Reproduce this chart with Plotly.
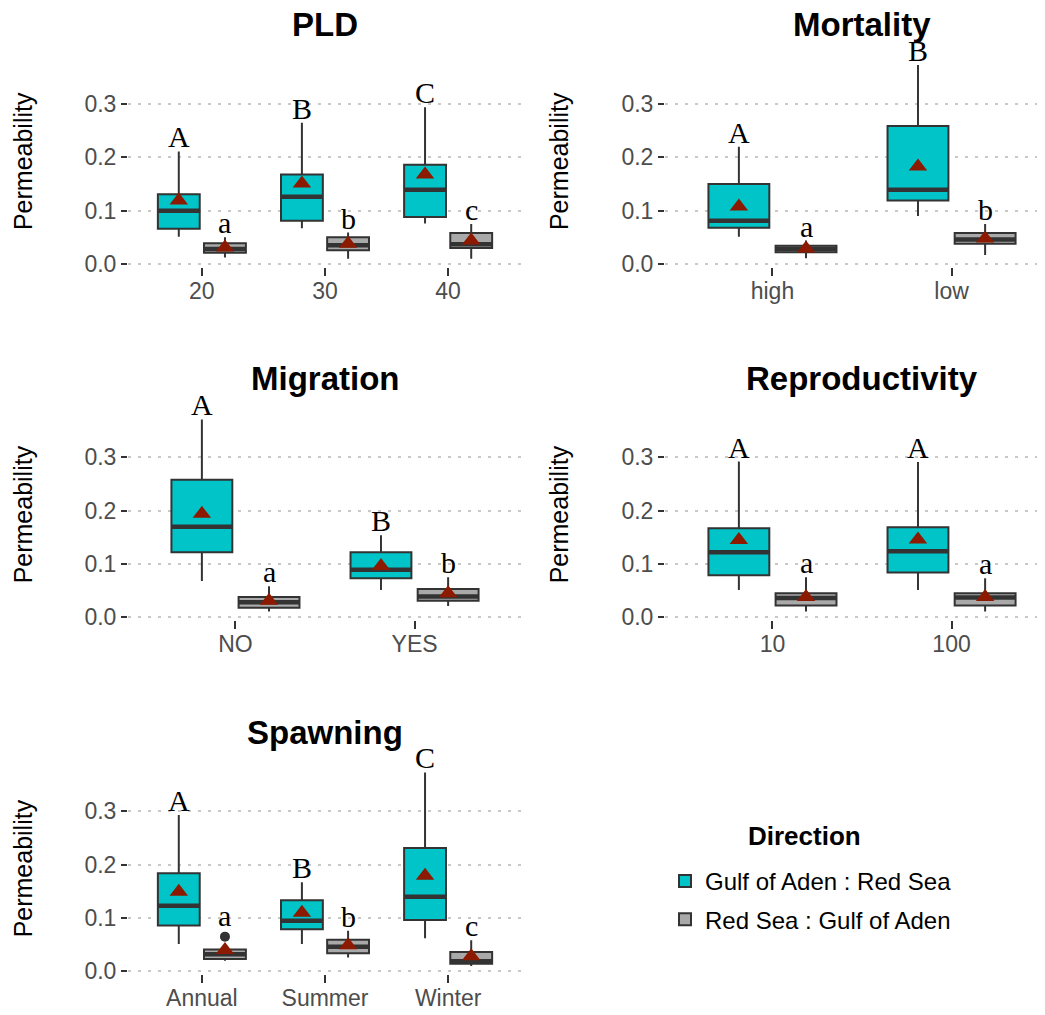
import plotly.graph_objects as go

# ---------------- data ----------------
directions = ["Gulf of Aden : Red Sea", "Red Sea : Gulf of Aden"]

pld_categories = ["20", "30", "40"]
pld_gulf = {"lower": [0.051, 0.067, 0.076], "q1": [0.066, 0.081, 0.088], "median": [0.100, 0.126, 0.139],
            "q3": [0.131, 0.168, 0.186], "upper": [0.211, 0.265, 0.294], "mean": [0.119, 0.151, 0.168]}
pld_red = {"lower": [0.012, 0.010, 0.010], "q1": [0.021, 0.026, 0.030], "median": [0.028, 0.035, 0.037],
           "q3": [0.039, 0.050, 0.058], "upper": [0.050, 0.059, 0.075], "mean": [0.031, 0.038, 0.044]}
pld_letters_gulf = ["A", "B", "C"]
pld_letters_red = ["a", "b", "c"]

mortality_categories = ["high", "low"]
mortality_gulf = {"lower": [0.051, 0.090], "q1": [0.068, 0.119], "median": [0.081, 0.139],
                  "q3": [0.150, 0.259], "upper": [0.220, 0.373], "mean": [0.108, 0.183]}
mortality_red = {"lower": [0.011, 0.017], "q1": [0.022, 0.038], "median": [0.028, 0.046],
                 "q3": [0.034, 0.058], "upper": [0.044, 0.075], "mean": [0.029, 0.048]}
mortality_letters_gulf = ["A", "B"]
mortality_letters_red = ["a", "b"]

migration_categories = ["NO", "YES"]
migration_gulf = {"lower": [0.068, 0.051], "q1": [0.122, 0.073], "median": [0.170, 0.089],
                  "q3": [0.258, 0.122], "upper": [0.371, 0.154], "mean": [0.194, 0.096]}
migration_red = {"lower": [0.011, 0.021], "q1": [0.018, 0.031], "median": [0.028, 0.039],
                 "q3": [0.038, 0.053], "upper": [0.058, 0.075], "mean": [0.031, 0.045]}
migration_letters_gulf = ["A", "B"]
migration_letters_red = ["a", "b"]

reproductivity_categories = ["10", "100"]
reproductivity_gulf = {"lower": [0.051, 0.051], "q1": [0.079, 0.084], "median": [0.122, 0.124],
                       "q3": [0.167, 0.169], "upper": [0.292, 0.291], "mean": [0.145, 0.146]}
reproductivity_red = {"lower": [0.011, 0.011], "q1": [0.022, 0.022], "median": [0.036, 0.037],
                      "q3": [0.045, 0.045], "upper": [0.075, 0.073], "mean": [0.038, 0.038]}
reproductivity_letters_gulf = ["A", "A"]
reproductivity_letters_red = ["a", "a"]

spawning_categories = ["Annual", "Summer", "Winter"]
spawning_gulf = {"lower": [0.051, 0.051, 0.062], "q1": [0.086, 0.079, 0.096], "median": [0.123, 0.095, 0.140],
                 "q3": [0.184, 0.133, 0.231], "upper": [0.293, 0.167, 0.373], "mean": [0.149, 0.110, 0.179]}
spawning_red = {"lower": [0.020, 0.026, 0.010], "q1": [0.023, 0.034, 0.014], "median": [0.032, 0.046, 0.019],
                "q3": [0.041, 0.059, 0.036], "upper": [0.045, 0.076, 0.058], "mean": [0.040, 0.049, 0.028]}
spawning_red_outliers = [[0.065], [], []]
spawning_letters_gulf = ["A", "B", "C"]
spawning_letters_red = ["a", "b", "c"]

panel_titles = ["PLD", "Mortality", "Migration", "Reproductivity", "Spawning"]
y_ticks = [0.0, 0.1, 0.2, 0.3]
y_tick_labels = ["0.0", "0.1", "0.2", "0.3"]

# ---------------- styling / layout constants ----------------
PAGE = 8                          # default page margin around the plot div
W, H = 1045 - PAGE, 1015 - PAGE   # figure size so it fills the window
SCALE = 533.3                     # px per unit of permeability
ZERO_PX = [264.0 - PAGE, 617.3 - PAGE, 971.3 - PAGE]  # pixel row of y = 0 per row
YMIN, YMAX = -0.006, 0.392
COL_LEFT = [128 - PAGE, 665 - PAGE]
YTITLE_X = [23 - PAGE, 559 - PAGE]
PANEL_W = 394
DODGE = 0.1875
BOX_W = 0.34
FILL = ["#00C4C8", "#A9A9A9"]
EDGE = "#333333"
MEAN_COL = "#8B1A00"
SANS = "Liberation Sans, Arial, sans-serif"
SERIF = "Liberation Serif, Times New Roman, serif"
OUTLIER_SIZE = 10

panels = [
    (pld_categories, pld_gulf, pld_red, pld_letters_gulf, pld_letters_red, None, 0, 0),
    (mortality_categories, mortality_gulf, mortality_red, mortality_letters_gulf, mortality_letters_red, None, 1, 0),
    (migration_categories, migration_gulf, migration_red, migration_letters_gulf, migration_letters_red, None, 0, 1),
    (reproductivity_categories, reproductivity_gulf, reproductivity_red, reproductivity_letters_gulf,
     reproductivity_letters_red, None, 1, 1),
    (spawning_categories, spawning_gulf, spawning_red, spawning_letters_gulf, spawning_letters_red,
     spawning_red_outliers, 0, 2),
]

fig = go.Figure()
annotations = []
layout_axes = {}

for p, (cats, gulf, red, lg, lr, red_out, col, row) in enumerate(panels):
    k = p + 1
    xa = "x" if k == 1 else f"x{k}"
    ya = "y" if k == 1 else f"y{k}"
    n = len(cats)
    pos = list(range(1, n + 1))

    left_px = COL_LEFT[col]
    right_px = min(left_px + PANEL_W, W)
    span = (n + 0.2) * (right_px - left_px) / PANEL_W
    xrange = [0.4, 0.4 + span]

    bottom_px = ZERO_PX[row] - YMIN * SCALE
    top_px = ZERO_PX[row] - YMAX * SCALE
    ydom = [1 - bottom_px / H, 1 - top_px / H]
    xdom = [left_px / W, right_px / W]

    for d, (stats, letters, outs) in enumerate([(gulf, lg, None), (red, lr, red_out)]):
        off = -DODGE if d == 0 else DODGE
        xs = [i + off for i in pos]
        fig.add_trace(go.Box(
            x=xs, q1=stats["q1"], median=stats["median"], q3=stats["q3"],
            lowerfence=stats["lower"], upperfence=stats["upper"],
            width=BOX_W, whiskerwidth=0, fillcolor=FILL[d], line=dict(color=EDGE, width=2),
            name=directions[d], legendgroup=directions[d], showlegend=(p == 0),
            xaxis=xa, yaxis=ya, hoverinfo="skip"))
        # thick median bar (ggplot fatten)
        fig.add_trace(go.Box(
            x=xs, q1=stats["median"], median=stats["median"], q3=stats["median"],
            lowerfence=stats["median"], upperfence=stats["median"],
            width=BOX_W, whiskerwidth=0, fillcolor="rgba(0,0,0,0)", line=dict(color=EDGE, width=4.5),
            showlegend=False, xaxis=xa, yaxis=ya, hoverinfo="skip"))
        if outs:
            ox, oy = [], []
            for i, vals in zip(xs, outs):
                for v in vals:
                    ox.append(i)
                    oy.append(v)
            fig.add_trace(go.Scatter(x=ox, y=oy, mode="markers",
                                     marker=dict(symbol="circle", size=OUTLIER_SIZE, color=EDGE),
                                     showlegend=False, xaxis=xa, yaxis=ya, hoverinfo="skip"))
        fig.add_trace(go.Scatter(x=xs, y=stats["mean"], mode="markers",
                                 marker=dict(symbol="triangle-up", size=16, color=MEAN_COL),
                                 showlegend=False, xaxis=xa, yaxis=ya, hoverinfo="skip",
                                 cliponaxis=False))
        for j, (xv, letter) in enumerate(zip(xs, letters)):
            top = stats["upper"][j]
            shift = -4
            if outs and outs[j] and max(outs[j]) > top:
                top = max(outs[j])
                shift = OUTLIER_SIZE // 2 - 2
            annotations.append(dict(x=xv, y=top, xref=xa, yref=ya, text=letter, showarrow=False,
                                    yanchor="bottom", xanchor="center", yshift=shift,
                                    font=dict(family=SERIF, size=30, color="black")))

    xkey = "xaxis" if k == 1 else f"xaxis{k}"
    ykey = "yaxis" if k == 1 else f"yaxis{k}"
    layout_axes[xkey] = dict(domain=xdom, anchor=ya, range=xrange, tickmode="array", tickvals=pos,
                             ticktext=cats, ticks="outside", ticklen=8, tickwidth=2, tickcolor=EDGE,
                             ticklabelstandoff=-5,
                             showgrid=False, zeroline=False, showline=False, automargin=False,
                             tickfont=dict(family=SANS, size=23, color="#4D4D4D"))
    layout_axes[ykey] = dict(domain=ydom, anchor=xa, range=[YMIN, YMAX], tickmode="array",
                             tickvals=y_ticks, ticktext=y_tick_labels, ticks="outside", ticklen=6,
                             tickwidth=2, tickcolor=EDGE, showgrid=True, gridcolor="#C8C8C8",
                             gridwidth=2, griddash="3px,7px", zeroline=False, showline=False,
                             automargin=False,
                             tickfont=dict(family=SANS, size=23, color="#4D4D4D"))

    # panel title
    annotations.append(dict(x=(left_px + PANEL_W / 2) / W, y=1 - (ZERO_PX[row] - 239) / H,
                            xref="paper", yref="paper", text=f"<b>{panel_titles[p]}</b>",
                            showarrow=False, xanchor="center", yanchor="middle",
                            font=dict(family=SANS, size=33, color="black")))
    # y-axis title
    annotations.append(dict(x=YTITLE_X[col] / W, y=(ydom[0] + ydom[1]) / 2,
                            xref="paper", yref="paper", text="Permeability", textangle=-90,
                            showarrow=False, xanchor="center", yanchor="middle",
                            font=dict(family=SANS, size=25, color="black")))

# legend title
annotations.append(dict(x=(804 - PAGE) / W, y=1 - (836 - PAGE) / H, xref="paper", yref="paper",
                        text="<b>Direction</b>", showarrow=False, xanchor="center", yanchor="middle",
                        font=dict(family=SANS, size=26, color="black")))

fig.update_layout(
    width=W, height=H,
    margin=dict(l=0, r=0, t=0, b=0, autoexpand=False),
    paper_bgcolor="white", plot_bgcolor="white",
    annotations=annotations,
    showlegend=True,
    legend=dict(x=(665 - PAGE) / W, y=1 - (859 - PAGE) / H, xanchor="left", yanchor="top",
                font=dict(family=SANS, size=24, color="black"),
                tracegroupgap=4, bgcolor="rgba(0,0,0,0)"),
    **layout_axes,
)

fig.write_html("out.html")
